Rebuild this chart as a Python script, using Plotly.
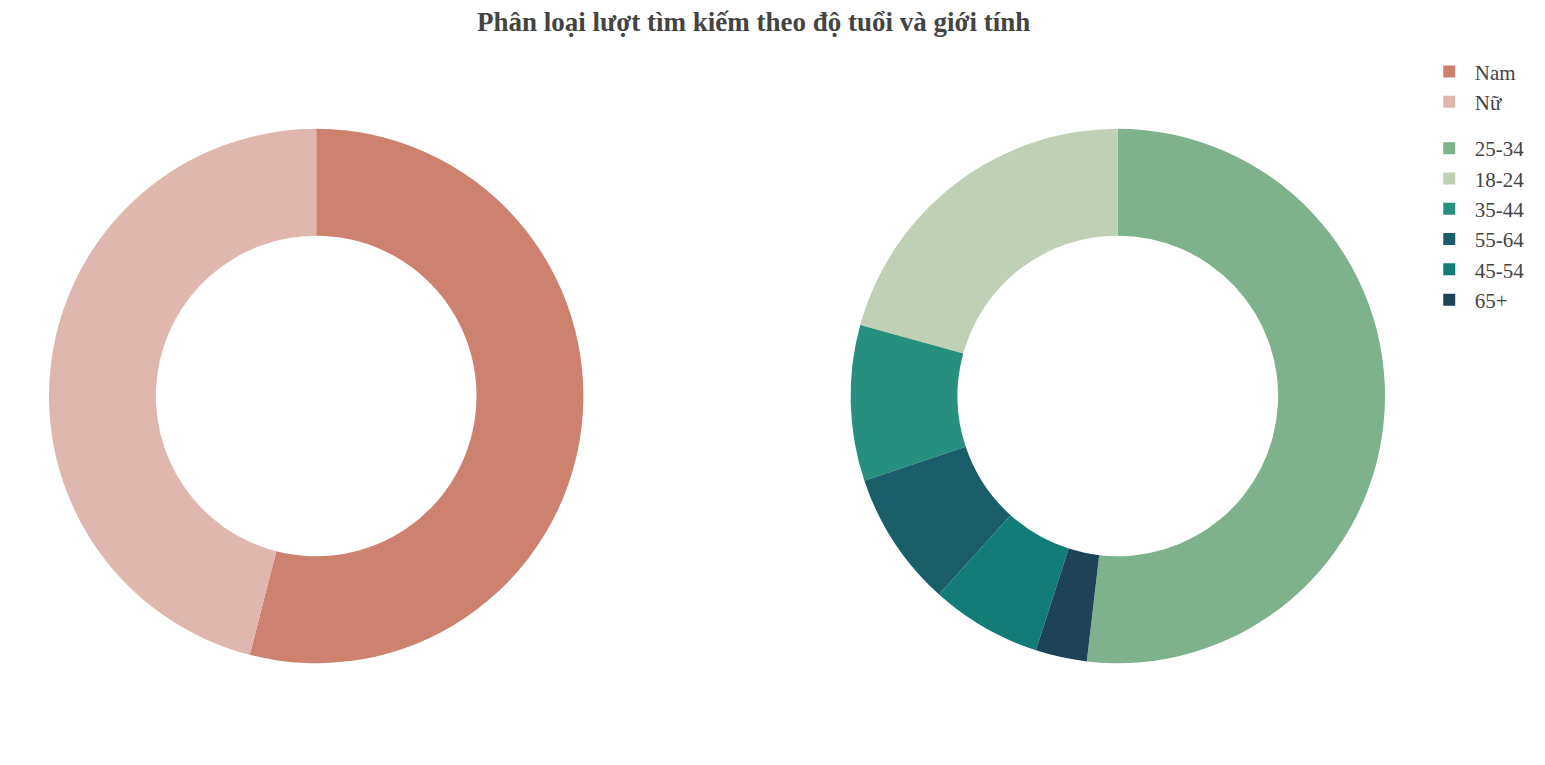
import plotly.graph_objects as go

title_text = "Phân loại lượt tìm kiếm theo độ tuổi và giới tính"

gender_labels = ["Nam", "Nữ"]
gender_values = [54.0, 46.0]
gender_colors = ["#CD8270", "#DFB7AE"]

age_labels = ["25-34", "18-24", "35-44", "55-64", "45-54", "65+"]
age_values = [51.8, 20.7, 9.4, 8.2, 6.7, 3.1]
age_colors = ["#7DB28C", "#BFD0B6", "#278F7D", "#1A5E69", "#127D77", "#1E4359"]

fig = go.Figure()
fig.add_trace(go.Pie(
    labels=gender_labels, values=gender_values, hole=0.6,
    marker=dict(colors=gender_colors, line=dict(width=0)),
    textinfo="none", domain=dict(x=[0, 0.4], y=[0, 1]),
    legendgroup="gender", name="Giới tính", sort=False,
))
fig.add_trace(go.Pie(
    labels=age_labels, values=age_values, hole=0.6,
    marker=dict(colors=age_colors, line=dict(width=0)),
    textinfo="none", domain=dict(x=[0.6, 1], y=[0, 1]),
    legendgroup="age", name="Độ tuổi", sort=False,
))

fig.update_layout(
    width=1545, height=765,
    paper_bgcolor="white", plot_bgcolor="white",
    font=dict(family="Liberation Serif, Times New Roman, serif", color="#444"),
    title=dict(text="<b>" + title_text + "</b>", xref="container", x=0.4826,
               xanchor="center", y=0.982, yanchor="middle",
               font=dict(size=27, color="#444")),
    margin=dict(l=41, r=168, t=73, b=62),
    legend=dict(x=1.029, y=1.047, xanchor="left", yanchor="top",
                font=dict(size=21, color="#444"), tracegroupgap=16,
                traceorder="grouped", itemwidth=41),
)

fig.write_html("out.html")
